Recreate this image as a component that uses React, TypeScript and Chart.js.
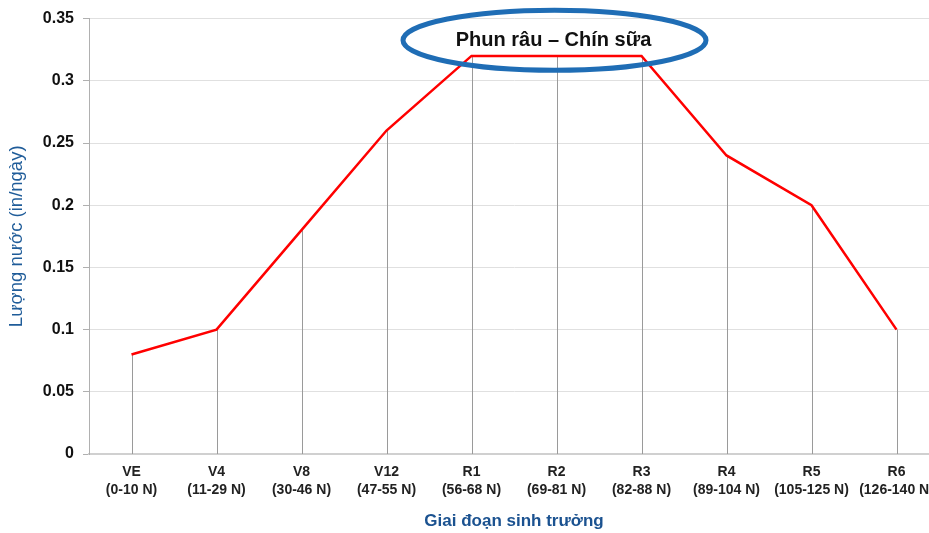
import React, { useEffect, useRef } from "react";
import { Chart, registerables } from "chart.js";

Chart.register(...registerables);

const stages = ["VE", "V4", "V8", "V12", "R1", "R2", "R3", "R4", "R5", "R6"];
const dayRanges = ["(0-10 N)", "(11-29 N)", "(30-46 N)", "(47-55 N)", "(56-68 N)", "(69-81 N)", "(82-88 N)", "(89-104 N)", "(105-125 N)", "(126-140 N)"];
const waterUse = [0.08, 0.1, 0.18, 0.26, 0.32, 0.32, 0.32, 0.24, 0.2, 0.1];
const yTicks = [0, 0.05, 0.1, 0.15, 0.2, 0.25, 0.3, 0.35];
const annotationText = "Phun râu – Chín sữa";
const annotationStage = "R2";
const annotationValue = 0.333;

const FONT = "'Liberation Sans', Arial, sans-serif";

const dropLines = {
  id: "dropLines",
  beforeDatasetsDraw(chart: any) {
    const ctx = chart.ctx;
    const meta = chart.getDatasetMeta(0);
    const yScale = chart.scales.y;
    const base = yScale.getPixelForValue(0);
    ctx.save();
    ctx.strokeStyle = "#9a9a9a";
    ctx.lineWidth = 1;
    meta.data.forEach((p: any) => {
      const x = Math.round(p.x) + 0.5;
      ctx.beginPath();
      ctx.moveTo(x, p.y);
      ctx.lineTo(x, base);
      ctx.stroke();
    });
    ctx.restore();
  },
};

const ellipseNote = {
  id: "ellipseNote",
  afterDraw(chart: any) {
    const ctx = chart.ctx;
    const cx = chart.scales.x.getPixelForValue(stages.indexOf(annotationStage)) - 2;
    const cy = chart.scales.y.getPixelForValue(annotationValue);
    ctx.save();
    ctx.beginPath();
    ctx.ellipse(cx, cy + 0.5, 151.5, 30, 0, 0, Math.PI * 2);
    ctx.strokeStyle = "#1f6db5";
    ctx.lineWidth = 5;
    ctx.stroke();
    ctx.fillStyle = "#111111";
    ctx.font = `bold 20px ${FONT}`;
    ctx.textAlign = "center";
    ctx.textBaseline = "middle";
    ctx.fillText(annotationText, cx - 1, cy + 0.5);
    ctx.restore();
  },
};

export default function App() {
  const ref = useRef<HTMLCanvasElement>(null);
  useEffect(() => {
    if (!ref.current) return;
    const chart = new Chart(ref.current, {
      type: "line",
      data: {
        labels: stages.map((s, i) => [s, dayRanges[i]]),
        datasets: [
          {
            data: waterUse,
            borderColor: "#ff0000",
            borderWidth: 2.5,
            pointRadius: 0,
            tension: 0,
            fill: false,
          },
        ],
      },
      options: {
        responsive: false,
        animation: false,
        devicePixelRatio: 1,
        layout: { padding: { top: 18, right: 6, left: 0, bottom: 0 } },
        plugins: { legend: { display: false }, tooltip: { enabled: false } },
        scales: {
          x: {
            type: "category",
            offset: true,
            grid: { display: false },
            border: { display: true, color: "#d0d0d0", width: 2 },
            ticks: {
              color: "#222",
              font: { family: FONT, size: 14, weight: "bold", lineHeight: 1.3 },
              padding: 1,
              maxRotation: 0,
              autoSkip: false,
            },
            title: {
              display: true,
              text: "Giai đoạn sinh trưởng",
              color: "#1b5290",
              font: { family: FONT, size: 17, weight: "bold", lineHeight: 1.2 },
              padding: { top: 0, bottom: 1 },
            },
            afterFit: (s: any) => {
              s.height = 79;
            },
          },
          y: {
            min: 0,
            max: 0.35,
            afterBuildTicks: (s: any) => {
              s.ticks = yTicks.map((v) => ({ value: v }));
            },
            grid: { color: "#e0e0e0", lineWidth: 1, tickLength: 6, tickColor: "#b0b0b0" },
            border: { display: true, color: "#b0b0b0", width: 1 },
            ticks: {
              color: "#111",
              font: { family: FONT, size: 16, weight: "bold" },
              padding: 9,
              callback: (v: any) => String(Number(v)),
            },
            title: {
              display: true,
              text: "Lượng nước (in/ngày)",
              color: "#1f5c99",
              font: { family: FONT, size: 18.5, weight: "normal", lineHeight: 1.2 },
              padding: { top: 6, bottom: 0 },
            },
            afterFit: (s: any) => {
              s.width = 89;
            },
          },
        },
      },
      plugins: [dropLines, ellipseNote],
    });
    return () => chart.destroy();
  }, []);
  return (
    <div style={{ position: "fixed", left: 0, top: 0, width: 929, height: 533, overflow: "hidden", background: "#fff" }}>
      <canvas ref={ref} width={945} height={533} style={{ display: "block" }} />
    </div>
  );
}
